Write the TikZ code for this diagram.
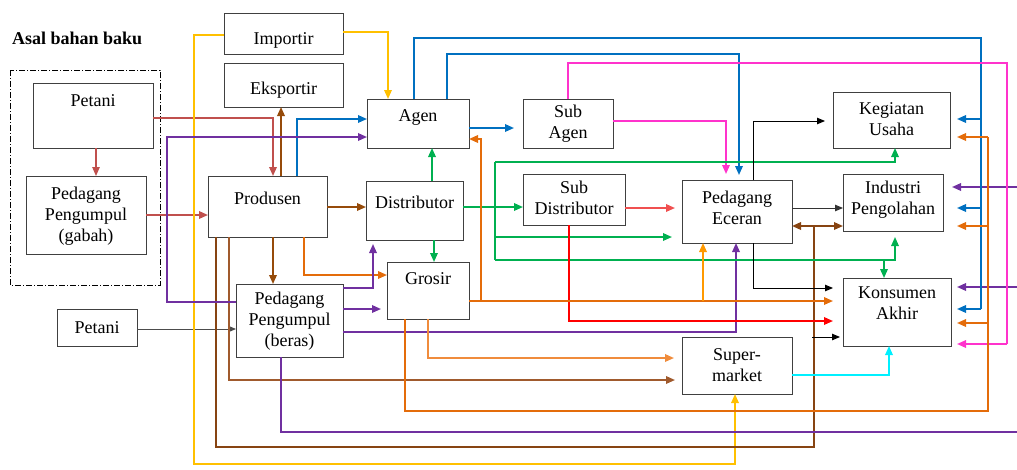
\documentclass[tikz,border=0pt]{standalone}
\usepackage{fontspec}
\setmainfont{Liberation Serif}
\usetikzlibrary{arrows.meta}

\definecolor{cRose}{RGB}{192,80,77}
\definecolor{cBrown}{RGB}{150,75,10}
\definecolor{cBrownD}{RGB}{135,68,18}
\definecolor{cBrownL}{RGB}{160,90,45}
\definecolor{cBlue}{RGB}{0,112,192}
\definecolor{cPurple}{RGB}{112,48,160}
\definecolor{cOrange}{RGB}{228,108,10}
\definecolor{cOrangeL}{RGB}{240,140,60}
\definecolor{cAmber}{RGB}{255,153,0}
\definecolor{cGold}{RGB}{255,192,0}
\definecolor{cGreen}{RGB}{0,176,80}
\definecolor{cPink}{RGB}{255,51,204}
\definecolor{cRed}{RGB}{255,0,0}
\definecolor{cRedL}{RGB}{240,80,80}
\definecolor{cCyan}{RGB}{0,240,255}

\begin{document}
\begin{tikzpicture}[x=1pt,y=-1pt,
  box/.style={draw=black!75, line width=0.9pt, inner sep=0pt, outer sep=0pt},
  lbl/.style={anchor=north, inner sep=0pt, align=center, font=\fontsize{18}{21}\selectfont},
  ln/.style={line width=1.7pt},
  thin/.style={line width=1.1pt},
  hair/.style={line width=0.9pt},
  tip/.style={-{Triangle[length=9pt,width=7.5pt]}},
  stip/.style={-{Triangle[length=8pt,width=6.5pt]}}]
\useasboundingbox (0,0) rectangle (1017,469);

% heading and source group
\node[anchor=west, inner sep=0pt, font=\fontsize{18}{21}\selectfont\bfseries] (head) at (12,38) {Asal bahan baku};
\draw[black, line width=0.8pt, dash pattern=on 6pt off 2pt on 1pt off 2pt] (10,70) rectangle (160,285);

% boxes
\node[box, minimum width=119pt, minimum height=41pt, label={[lbl,yshift=-19pt]north:{Importir}}] (imp) at (283.5,33.5) {};
\node[box, minimum width=119pt, minimum height=44pt, label={[lbl,yshift=-19pt]north:{Eksportir}}] (eks) at (283.5,85) {};
\node[box, minimum width=120pt, minimum height=65pt, label={[lbl,yshift=-11pt]north:{Petani}}] (pet1) at (93,115.5) {};
\node[box, minimum width=120pt, minimum height=78pt, label={[lbl,yshift=-11pt]north:{Pedagang\\Pengumpul\\(gabah)}}] (ppg) at (86,215) {};
\node[box, minimum width=119pt, minimum height=61pt, label={[lbl,yshift=-16pt]north:{Produsen}}] (prod) at (267.5,206.5) {};
\node[box, minimum width=80pt, minimum height=37pt, label={[lbl,yshift=-12pt]north:{Petani}}] (pet2) at (97,327.5) {};
\node[box, minimum width=107pt, minimum height=73pt, label={[lbl,yshift=-8pt]north:{Pedagang\\Pengumpul\\(beras)}}] (ppb) at (289.5,320.5) {};
\node[box, minimum width=102pt, minimum height=49pt, label={[lbl,yshift=-10pt]north:{Agen}}] (agen) at (418,123.5) {};
\node[box, minimum width=90pt, minimum height=49pt, label={[lbl,yshift=-6pt]north:{Sub\\Agen}}] (sag) at (568,123.5) {};
\node[box, minimum width=97pt, minimum height=59pt, label={[lbl,yshift=-15pt]north:{Distributor}}] (dist) at (414.5,210.5) {};
\node[box, minimum width=102pt, minimum height=51pt, label={[lbl,yshift=-7pt]north:{Sub\\Distributor}}] (sdist) at (574,199.5) {};
\node[box, minimum width=82pt, minimum height=57pt, label={[lbl,yshift=-10pt]north:{Grosir}}] (gros) at (428,290.5) {};
\node[box, minimum width=117pt, minimum height=56pt, label={[lbl,yshift=-10pt]north:{Kegiatan\\Usaha}}] (keg) at (891.5,120) {};
\node[box, minimum width=100pt, minimum height=57pt, label={[lbl,yshift=-7pt]north:{Industri\\Pengolahan}}] (ind) at (893,202.5) {};
\node[box, minimum width=110pt, minimum height=63pt, label={[lbl,yshift=-11pt]north:{Pedagang\\Eceran}}] (ecer) at (737,211.5) {};
\node[box, minimum width=108pt, minimum height=68pt, label={[lbl,yshift=-9pt]north:{Konsumen\\Akhir}}] (kons) at (897,312) {};
\node[box, minimum width=110pt, minimum height=57pt, label={[lbl,yshift=-11pt]north:{Super-\\market}}] (super) at (737,365.5) {};

% junction points and off-page ends
\coordinate (blueT) at (981,38);
\coordinate (oraT) at (988,411);
\coordinate (grnT) at (495,162);
\coordinate (grnB) at (495,260);
\coordinate (brJ) at (814,226);
\coordinate (oraJ) at (481,301);
\coordinate (edgeP1) at (1017,187);
\coordinate (edgeP2) at (1017,287);
\coordinate (edgeP3) at (1017,432);
\coordinate (blk) at (812,337);

% farmer flows
\draw[cRose, thin, tip] (96,0 |- pet1.south) -- (96,0 |- ppg.north);
\draw[cRose, ln, tip] (ppg.east) -- (prod.west |- ppg.east);
\draw[cRose, ln, tip] (pet1.east |- 0,118) -| (273,0 |- prod.north);
\draw[black!70, hair, stip] (pet2.east |- 0,329) -- (ppb.west |- 0,329);

% importir
\draw[cGold, ln, tip] (imp.west |- 0,35) -- (194,35) -- (194,464) -| (735,0 |- super.south);
\draw[cGold, ln, tip] (imp.east |- 0,32) -| (388,0 |- agen.north);

% produsen
\draw[cBrown, ln, tip] (281,0 |- prod.north) -- (281,0 |- eks.south);
\draw[cBlue, ln, tip] (297,0 |- prod.north) |- (agen.west |- 0,119);
\draw[cBrown, ln, tip] (prod.east |- 0,207) -- (dist.west |- 0,207);
\draw[cBrown, ln, tip] (273,0 |- prod.south) -- (273,0 |- ppb.north);
\draw[cBrownD, ln] (216,0 |- prod.south) -- (216,447) -| (brJ);
\draw[cBrownD, ln, tip] (brJ) -- (ecer.east |- brJ);
\draw[cBrownD, ln, tip] (brJ) -- (ind.west |- brJ);
\draw[cBrownL, ln, tip, shorten >=7pt] (229,0 |- prod.south) |- (super.west |- 0,380);
\draw[cOrange, ln, tip] (304,0 |- prod.south) |- (gros.west |- 0,275);

% pedagang pengumpul beras
\draw[cPurple, ln, tip] (ppb.west |- 0,302) -- (167,302) -- (167,137) -- (agen.west |- 0,137);
\draw[cPurple, ln, tip, shorten >=4pt] (ppb.east |- 0,288) -| (373,0 |- dist.south);
\draw[cPurple, ln, tip, shorten >=6pt] (ppb.east |- 0,309) -- (gros.west |- 0,309);
\draw[cPurple, ln, tip] (ppb.east |- 0,332) -| (736,0 |- ecer.south);
\draw[cPurple, ln] (281,0 |- ppb.south) |- (edgeP3);
\draw[cPurple, ln, tip, shorten >=9pt] (edgeP1) -- (ind.east |- edgeP1);
\draw[cPurple, ln, tip, shorten >=6pt] (edgeP2) -- (kons.east |- edgeP2);

% agen
\draw[cBlue, ln, tip, shorten >=9pt] (agen.east |- 0,128) -- (sag.west |- 0,128);
\draw[cBlue, ln] (414,0 |- agen.north) |- (blueT) -- (981,309);
\draw[cBlue, ln, tip, shorten >=6pt] (981,309) -- (kons.east |- 0,309);
\draw[cBlue, ln, tip, shorten >=7pt] (981,119) -- (keg.east |- 0,119);
\draw[cBlue, ln, tip, shorten >=14pt] (981,208) -- (ind.east |- 0,208);
\draw[cBlue, ln, tip, shorten >=5pt] (447,0 |- agen.north) -- (447,54) -| (739,0 |- ecer.north);

% sub agen
\draw[cPink, ln] (568,0 |- sag.north) |- (1007,63) -- (1007,344);
\draw[cPink, ln, tip, shorten >=6pt] (1007,344) -- (kons.east |- 0,344);
\draw[cPink, ln, tip, shorten >=6pt] (sag.east |- 0,121) -| (726,0 |- ecer.north);

% distributor
\draw[cGreen, ln, tip] (432,0 |- dist.north) -- (432,0 |- agen.south);
\draw[cGreen, ln, tip] (434,0 |- dist.south) -- (434,0 |- gros.north);
\draw[cGreen, ln, tip] (dist.east |- 0,207) -- (sdist.west |- 0,207);
\draw[cGreen, ln] (grnT) -- (grnB);
\draw[cGreen, ln, tip] (grnT) -| (895,0 |- keg.south);
\draw[cGreen, ln, tip, shorten >=10pt] (495,237) -- (ecer.west |- 0,237);
\draw[cGreen, ln, tip, shorten >=6pt] (grnB) -| (895,0 |- ind.south);
\draw[cGreen, ln, tip] (884,260) -- (884,0 |- kons.north);

% sub distributor
\draw[cRedL, ln, tip, shorten >=7pt] (sdist.east |- 0,208) -- (ecer.west |- 0,208);
\draw[cRed, ln, tip, shorten >=10pt] (569,0 |- sdist.south) |- (kons.west |- 0,321);

% grosir
\draw[cOrange, ln, tip, shorten >=10pt] (gros.east |- oraJ) -- (kons.west |- oraJ);
\draw[cOrange, ln, tip] (oraJ) -- (481,139) -- (agen.east |- 0,139);
\draw[cAmber, ln, tip] (703,301) -- (703,0 |- ecer.south);
\draw[cOrangeL, ln, tip, shorten >=8pt] (428,0 |- gros.south) |- (super.west |- 0,358);
\draw[cOrange, ln] (405,0 |- gros.south) |- (oraT) -- (988,137);
\draw[cOrange, ln, tip, shorten >=7pt] (988,137) -- (keg.east |- 0,137);
\draw[cOrange, ln, tip, shorten >=14pt] (988,226) -- (ind.east |- 0,226);
\draw[cOrange, ln, tip, shorten >=6pt] (988,323) -- (kons.east |- 0,323);

% pedagang eceran
\draw[black, hair, stip, shorten >=8pt] (753,0 |- ecer.north) |- (keg.west |- 0,121);
\draw[black!80, hair, stip] (ecer.east |- 0,208) -- (ind.west |- 0,208);
\draw[black, hair, stip, shorten >=10pt] (753,0 |- ecer.south) |- (kons.west |- 0,288);
\draw[black, hair, stip, shorten >=3pt] (blk) -- (kons.west |- blk);

% supermarket
\draw[cCyan, ln, tip] (super.east |- 0,375) -| (889,0 |- kons.south);
\end{tikzpicture}
\end{document}
